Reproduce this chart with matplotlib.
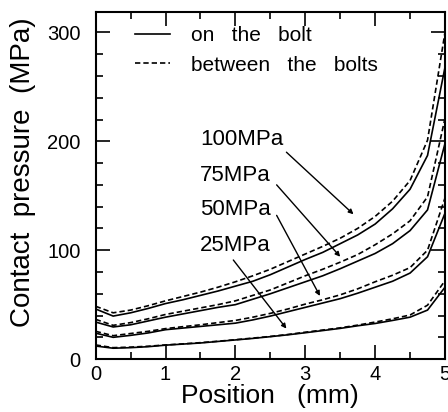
import matplotlib.pyplot as plt
import numpy as np

# posiciones (mm)
x = [0, 0.25, 0.5, 0.75, 1, 1.25, 1.5, 1.75, 2, 2.25, 2.5, 2.75, 3,
     3.25, 3.5, 3.75, 4, 4.25, 4.5, 4.75, 5]

# presion de contacto (MPa)
p100_between = [48.5, 42.5, 45, 49, 53.5, 57.5, 61.5, 66, 71, 76.5, 82.5, 89.5, 96.5,
                103.5, 111, 120, 131, 145, 164, 201, 300]
p100_on = [46, 39.5, 42.5, 46.5, 51, 54.5, 58.5, 62.5, 67, 71.5, 77.5, 84.5, 91.5,
           98, 106, 114, 124, 138, 156, 187, 268]
p75_between = [36.5, 31, 33.5, 37, 41, 44, 47, 50, 53.5, 58.5, 63.5, 70, 76.5,
               82.5, 89, 96, 105, 115, 127, 149, 221]
p75_on = [34, 29.5, 31.5, 35, 38.5, 41.5, 44.5, 47.5, 50, 55, 60, 65.5, 71,
          76.5, 83, 90, 97, 106, 118, 137, 198]
p50_between = [25.5, 21.5, 23.5, 25.5, 28, 29.8, 31.5, 33.5, 35.5, 38.5, 42, 46, 50.5,
               54.5, 59, 64.5, 71, 77, 84, 100, 148]
p50_on = [23.8, 20, 21.8, 24, 27, 28.5, 30, 31.5, 33, 36, 39.5, 43.5, 47.5,
          51.5, 55.5, 60.5, 66, 71.5, 79, 94, 134]
p25_between = [13, 10.5, 11, 11.8, 13, 14, 15.1, 16.4, 17.8, 19.3, 20.8, 22.6, 24.7,
               26.7, 28.7, 31.2, 34, 37, 40.5, 49.5, 72]
p25_on = [12, 10, 10.5, 11.4, 12.8, 13.8, 14.8, 16.2, 17.6, 19, 20.6, 22.3, 24.2,
          26.2, 28.2, 30.6, 32.7, 35.5, 38.5, 45, 66]

etiquetas = ['100MPa', '75MPa', '50MPa', '25MPa']
texto_pos = [(1.49, 202), (1.49, 169), (1.49, 137), (1.49, 104)]
flecha_ini = [(2.73, 190), (2.59, 160), (2.59, 132), (1.97, 91)]
flecha_fin = [(3.69, 133), (3.50, 94), (3.21, 58), (2.73, 28)]

plt.rcParams['font.family'] = ['Liberation Sans', 'DejaVu Sans']

fig = plt.figure(figsize=(4.48, 4.12), dpi=100)
ax = fig.add_axes([0.2136, 0.1284, 0.7797, 0.8432])

dash = (0, (3.2, 1.8))
pares = [(p100_on, p100_between), (p75_on, p75_between),
         (p50_on, p50_between), (p25_on, p25_between)]
for i, (on, bet) in enumerate(pares):
    ax.plot(x, on, color='black', lw=1.2, label='on   the   bolt' if i == 0 else None)
    ax.plot(x, bet, color='black', lw=1.2, linestyle=dash,
            label='between   the   bolts' if i == 0 else None)

for lab, tp, a0, a1 in zip(etiquetas, texto_pos, flecha_ini, flecha_fin):
    ax.text(tp[0], tp[1], lab, fontsize=16, ha='left', va='center')
    ax.annotate('', xy=a1, xytext=a0,
                arrowprops=dict(arrowstyle='-|>', lw=1.0, color='black',
                                mutation_scale=7, shrinkA=0, shrinkB=0))

ax.set_xlim(0, 5)
ax.set_ylim(0, 319)
ax.set_xticks([0, 1, 2, 3, 4, 5])
ax.set_xticks(np.arange(0, 5.01, 0.5), minor=True)
ax.set_yticks([0, 100, 200, 300])
ax.set_yticks(np.arange(0, 320, 20), minor=True)
ax.tick_params(which='both', direction='in', top=True, right=True, width=1.2)
ax.tick_params(which='major', length=10, labelsize=14.5)
ax.tick_params(which='minor', length=5)
ax.tick_params(axis='y', pad=11)
ax.tick_params(axis='x', pad=4)
for s in ax.spines.values():
    s.set_linewidth(1.5)

ax.set_xlabel('Position   (mm)', fontsize=19, labelpad=0)
ax.set_ylabel('Contact  pressure  (MPa)', fontsize=20)
ax.yaxis.set_label_coords(-0.172, 0.538)

leg = ax.legend(loc='upper left', bbox_to_anchor=(0.071, 1.0), frameon=False,
                fontsize=15, handlelength=1.7, handletextpad=1.0,
                labelspacing=0.5, borderaxespad=0.3)

fig.savefig('out.png', dpi=100)
